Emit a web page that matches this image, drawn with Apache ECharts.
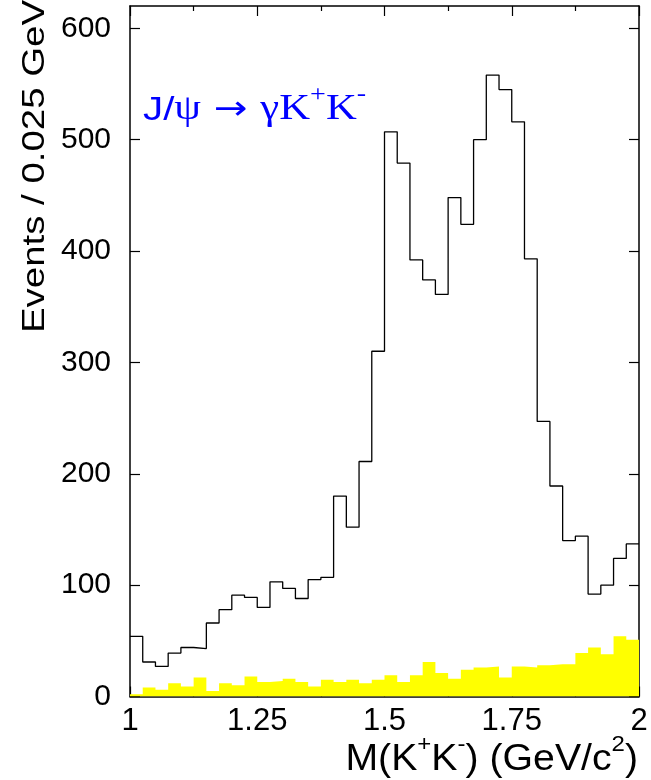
<!DOCTYPE html>
<html>
<head>
<meta charset="utf-8">
<script src="https://cdn.jsdelivr.net/npm/echarts@6/dist/echarts.min.js"></script>
<style>
  html, body { margin: 0; padding: 0; background: #ffffff; }
  #chart { width: 651px; height: 780px; }
</style>
</head>
<body>
<div id="chart"></div>
<script>
// ---- data ----
const binLow = 1.0;
const binWidth = 0.025;
const totalCounts = [54,31,27,39,44,43,66,78,91,89,
                     80,103,97,88,105,107,180,152,211,310,
                     507,479,392,374,361,448,424,500,558,545,
                     516,393,247,189,140,144,92,100,124,137];
const bkgCounts = [2,8,6,12,9,17,5,12,10,18,
                   13,14,16,13,9,15,13,15,12,15,
                   19,13,19,31,21,16,24,26,27,17,
                   27,26,28,29,29,39,44,38,54,51];
const xTickLabels = [1, 1.25, 1.5, 1.75, 2];
const yTickValues = [0, 100, 200, 300, 400, 500, 600];
const yTitle = 'Events / 0.025 GeV';
const xTitleParts = ['M(K', '+', 'K', '-', ') (GeV/c', '2', ')'];
const annotationParts = ['J/', 'ψ', ' → ', 'γK', '+', 'K', '-'];

// histogram -> step points at bin edges
function stepData(counts) {
  const pts = counts.map((v, i) => [binLow + i * binWidth, v]);
  pts.push([binLow + counts.length * binWidth, counts[counts.length - 1]]);
  return pts;
}

const chart = echarts.init(document.getElementById('chart'), null, { renderer: 'canvas' });
const axisLine = { show: true, onZero: false, lineStyle: { color: '#000', width: 1.5 } };
const sans = 'Liberation Sans, Arial, Helvetica, sans-serif';
const serif = 'Liberation Serif, Times New Roman, serif';

const option = {
  animation: false,
  backgroundColor: '#ffffff',
  grid: { left: 130, right: 12, top: 6, bottom: 83.5, containLabel: false },
  xAxis: [
    {
      type: 'value', min: 1, max: 2, interval: 0.25, position: 'bottom',
      axisLine: axisLine,
      axisTick: { show: true, inside: true, length: 10, lineStyle: { color: '#000', width: 1.2 } },
      minorTick: { show: true, splitNumber: 2, length: 5, lineStyle: { color: '#000', width: 1.2 } },
      splitLine: { show: false },
      axisLabel: {
        show: true, margin: 9, color: '#000', fontSize: 31, fontFamily: sans,
        customValues: xTickLabels,
        formatter: v => String(Math.round(v * 100) / 100)
      }
    },
    {
      type: 'value', min: 1, max: 2, interval: 0.25, position: 'top',
      axisLine: axisLine,
      axisTick: { show: true, inside: true, length: 10, lineStyle: { color: '#000', width: 1.2 } },
      minorTick: { show: true, splitNumber: 2, length: 5, lineStyle: { color: '#000', width: 1.2 } },
      splitLine: { show: false },
      axisLabel: { show: false }
    }
  ],
  yAxis: [
    {
      type: 'value', min: 0, max: 620, interval: 100, position: 'left',
      axisLine: axisLine,
      axisTick: { show: true, inside: true, length: 10, customValues: yTickValues, lineStyle: { color: '#000', width: 1.2 } },
      splitLine: { show: false },
      axisLabel: { show: true, margin: 19, color: '#000', fontSize: 30, fontFamily: sans, customValues: yTickValues }
    },
    {
      type: 'value', min: 0, max: 620, interval: 100, position: 'right',
      axisLine: axisLine,
      axisTick: { show: true, inside: true, length: 10, customValues: yTickValues, lineStyle: { color: '#000', width: 1.2 } },
      splitLine: { show: false },
      axisLabel: { show: false }
    }
  ],
  series: [
    {
      name: 'background', type: 'line', step: 'end', xAxisIndex: 0, yAxisIndex: 0,
      data: stepData(bkgCounts), symbol: 'none',
      lineStyle: { width: 0, color: '#ffff00' },
      areaStyle: { color: '#ffff00', opacity: 1 },
      z: 1
    },
    {
      name: 'data', type: 'line', step: 'end', xAxisIndex: 0, yAxisIndex: 0,
      data: stepData(totalCounts), symbol: 'none',
      lineStyle: { width: 1.3, color: '#000' },
      z: 3
    }
  ],
  graphic: [
    {
      type: 'text', x: 51, y: 333, rotation: Math.PI / 2, scaleX: 1.2, scaleY: 1,
      style: { text: yTitle, fill: '#000', font: '32px ' + sans, align: 'left', verticalAlign: 'bottom' }
    },
    {
      type: 'text', x: 638, y: 778, scaleX: 1.09, scaleY: 1,
      style: {
        text: '{m|' + xTitleParts[0] + '}{p|' + xTitleParts[1] + '}{m|' + xTitleParts[2] + '}{p|' + xTitleParts[3] +
              '}{m|' + xTitleParts[4] + '}{p|' + xTitleParts[5] + '}{m|' + xTitleParts[6] + '}',
        align: 'right', verticalAlign: 'bottom',
        rich: {
          m: { fontSize: 36, fontFamily: sans, fill: '#000', lineHeight: 44, verticalAlign: 'bottom' },
          p: { fontSize: 22, fontFamily: sans, fill: '#000', lineHeight: 24, verticalAlign: 'top' }
        }
      }
    },
    {
      type: 'text', x: 143, y: 127, scaleX: 1.22, scaleY: 1,
      style: {
        text: '{s|' + annotationParts[0] + '}{g|' + annotationParts[1] + '}{a|' + annotationParts[2] +
              '}{g|' + annotationParts[3] + '}{p|' + annotationParts[4] + '}{g|' + annotationParts[5] +
              '}{p|' + annotationParts[6] + '}',
        align: 'left', verticalAlign: 'bottom',
        rich: {
          s: { fontSize: 33, fontFamily: sans, fill: '#0000ff', lineHeight: 44, verticalAlign: 'bottom' },
          g: { fontSize: 35, fontFamily: serif, fill: '#0000ff', lineHeight: 44, verticalAlign: 'bottom' },
          a: { fontSize: 33, fontFamily: 'DejaVu Sans, sans-serif', fill: '#0000ff', lineHeight: 44, verticalAlign: 'bottom' },
          p: { fontSize: 23, fontFamily: serif, fill: '#0000ff', lineHeight: 16, verticalAlign: 'top' }
        }
      }
    }
  ]
};
chart.setOption(option);
</script>
</body>
</html>
